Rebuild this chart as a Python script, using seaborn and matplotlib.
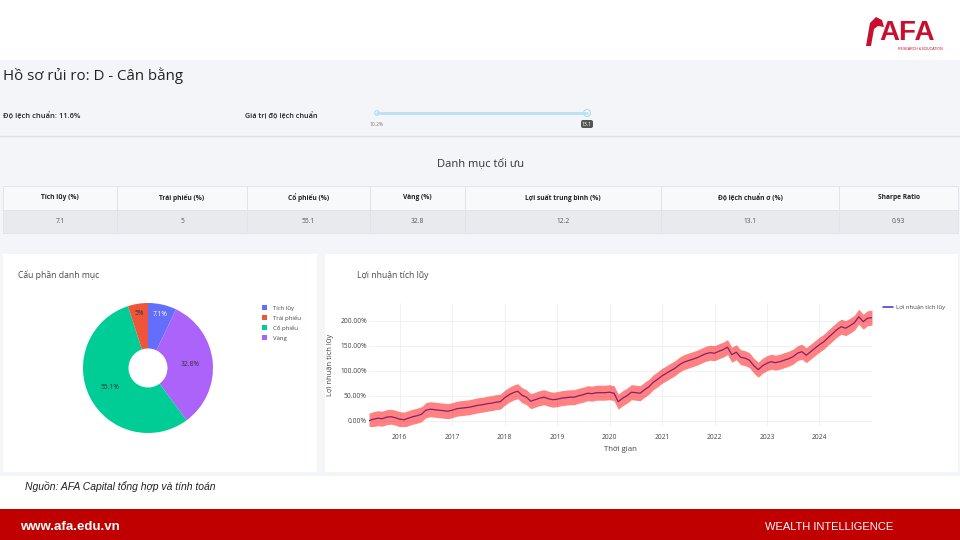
import matplotlib
matplotlib.use("Agg")
import matplotlib.pyplot as plt
import matplotlib.dates as mdates
from matplotlib import font_manager
from matplotlib.patches import Rectangle, Patch, Polygon, Circle, FancyBboxPatch
from matplotlib.lines import Line2D
from matplotlib.ticker import FuncFormatter
import numpy as np
import pandas as pd
import seaborn as sns

W, H = 960, 540

# ---- data ----
profile_name = "D - Cân bằng"
current_std = 11.6
slider_min = 10.2
slider_value = 13.1

table_headers = ["Tích lũy (%)", "Trái phiếu (%)", "Cổ phiếu (%)", "Vàng (%)",
                 "Lợi suất trung bình (%)", "Độ lệch chuẩn σ (%)", "Sharpe Ratio"]
table_values = ["7.1", "5", "55.1", "32.8", "12.2", "13.1", "0.93"]

assets = ["Tích lũy", "Trái phiếu", "Cổ phiếu", "Vàng"]
weights = [7.1, 5.0, 55.1, 32.8]

# cumulative return at the start of each month, Jun 2015 .. Jan 2025
months = pd.date_range("2015-06-01", "2025-01-01", freq="MS")
cum_return = [
    0.00, 0.03, 0.05, 0.04, 0.07, 0.08, 0.06,
    0.03, 0.02, 0.05, 0.08, 0.10, 0.13, 0.21, 0.23, 0.22, 0.21, 0.20, 0.19,
    0.21, 0.24, 0.25, 0.26, 0.27, 0.29, 0.31, 0.32, 0.34, 0.35, 0.37, 0.38,
    0.46, 0.52, 0.56, 0.59, 0.51, 0.47, 0.39, 0.42, 0.45, 0.47, 0.44, 0.42,
    0.43, 0.45, 0.46, 0.47, 0.47, 0.50, 0.52, 0.55, 0.54, 0.56, 0.56, 0.56,
    0.57, 0.55, 0.38, 0.45, 0.50, 0.57, 0.56, 0.55, 0.62, 0.68, 0.77, 0.83,
    0.90, 0.95, 1.00, 1.05, 1.12, 1.17, 1.20, 1.23, 1.26, 1.30, 1.34, 1.36,
    1.35, 1.39, 1.42, 1.47, 1.32, 1.37, 1.27, 1.25, 1.21, 1.10, 1.02, 1.10,
    1.15, 1.18, 1.16, 1.18, 1.21, 1.24, 1.28, 1.35, 1.38, 1.31, 1.38, 1.45,
    1.52, 1.58, 1.66, 1.74, 1.82, 1.88, 1.85, 1.90, 1.96, 2.08, 1.98, 2.05,
    2.06,
]
band_halfwidth = 0.15
tick_years = list(range(2016, 2025))

# ---- styles ----
asset_colors = ["#636efa", "#ef553b", "#00cc96", "#ab63fa"]
pie_order = [0, 3, 2, 1]          # clockwise from 12 o'clock, as drawn
label_colors = ["white", "#333333", "#333333", "#333333"]
line_color = "#861f6e"
legend_line_color = "#4b44c8"
band_color = "#ff1a1a"
page_gray = "#f3f5f8"
brand_red = "#c00000"

sns.set_style("white")
names = {f.name for f in font_manager.fontManager.ttflist}
narrow = "Liberation Sans Narrow" if "Liberation Sans Narrow" in names else "Liberation Sans"
plt.rcParams["font.family"] = ["Open Sans", "DejaVu Sans"]


def px_rect(x0, y0, x1, y1):
    return [x0 / W, 1 - y1 / H, (x1 - x0) / W, (y1 - y0) / H]


fig = plt.figure(figsize=(W / 100, H / 100), dpi=100)
fig.patch.set_facecolor("white")

# background canvas in pixel coordinates
bg = fig.add_axes([0, 0, 1, 1])
bg.set_xlim(0, W)
bg.set_ylim(H, 0)
bg.axis("off")

bg.add_patch(Rectangle((0, 60), W, 416, color=page_gray, lw=0))
bg.plot([0, W], [136, 136], color="#dde1e7", lw=1)
bg.add_patch(Rectangle((3, 254), 314, 218, color="white", lw=0))
bg.add_patch(Rectangle((325, 254), 633, 218, color="white", lw=0))

# logo
bg.add_patch(Polygon([(866, 46), (870, 23), (876, 17), (882, 20), (884, 27),
                      (878, 26), (874, 29), (871, 46)], color="#c8102e", lw=0))
bg.text(879, 40.5, "AFA", color="#c8102e", fontsize=20, fontweight="bold",
        family=narrow, ha="left", va="baseline")
bg.text(920, 49.5, "RESEARCH & EDUCATION", color="#c8102e", fontsize=2.6,
        ha="center", va="center", family=narrow)

# header
bg.text(3, 76, f"Hồ sơ rủi ro: {profile_name}", fontsize=10.8, color="#222222",
        ha="left", va="center")
bg.text(3, 116, f"Độ lệch chuẩn: {current_std}%", fontsize=5.4,
        fontweight="semibold", color="#222222", ha="left", va="center")
bg.text(245, 116, "Giá trị độ lệch chuẩn", fontsize=5.2,
        fontweight="semibold", color="#222222", ha="left", va="center")

# slider
bg.plot([377, 587], [113, 113], color="#b9e0f4", lw=2, solid_capstyle="round")
bg.add_patch(Circle((377, 113), 2.2, facecolor="white", edgecolor="#a9d8f0", lw=0.8))
bg.add_patch(Circle((587, 113), 3.4, facecolor="white", edgecolor="#a9d8f0", lw=0.8))
bg.text(377, 124, f"{slider_min}%", fontsize=3.6, color="#777777", ha="center", va="center")
bg.add_patch(FancyBboxPatch((581, 120), 12, 8, boxstyle="round,pad=0,rounding_size=2",
                            facecolor="#555555", edgecolor="none"))
bg.text(587, 124, f"{slider_value}", fontsize=3.6, color="white", ha="center", va="center")

bg.text(481, 164, "Danh mục tối ưu", fontsize=8, color="#333333", ha="center", va="center")

# footer
bg.text(25, 486, "Nguồn: AFA Capital tổng hợp và tính toán", fontsize=7.5,
        style="italic", family=narrow, color="#222222", ha="left", va="center")
bg.add_patch(Rectangle((0, 509), W, 31, color=brand_red, lw=0))
bg.text(20, 527, "www.afa.edu.vn", fontsize=9.5, fontweight="bold", family=narrow,
        color="white", ha="left", va="center")
bg.text(765, 527, "WEALTH INTELLIGENCE", fontsize=8, family=narrow,
        color="white", ha="left", va="center")

# ---- table ----
col_edges = [3, 117, 247, 370, 465, 661, 839, 958]
col_widths = np.diff(col_edges) / (col_edges[-1] - col_edges[0])
ax_tab = fig.add_axes(px_rect(3, 186, 958, 233))
ax_tab.axis("off")
tbl = ax_tab.table(cellText=[table_values], colLabels=table_headers,
                   colWidths=list(col_widths), cellLoc="center", bbox=[0, 0, 1, 1])
tbl.auto_set_font_size(False)
for (r, c), cell in tbl.get_celld().items():
    cell.set_edgecolor("#dfe3ea")
    cell.set_linewidth(0.6)
    if r == 0:
        cell.set_facecolor("#f8f9fb")
        cell.get_text().set_fontweight("bold")
        cell.get_text().set_color("#222222")
    else:
        cell.set_facecolor("#e8eaee")
        cell.get_text().set_color("#555555")
    cell.get_text().set_fontsize(4.8)

# ---- donut ----
bg.text(18, 275, "Cấu phần danh mục", fontsize=6.2, color="#4a4a4a", ha="left", va="center")
ax_pie = fig.add_axes(px_rect(83, 303, 213, 433))
wedges, _ = ax_pie.pie([weights[i] for i in pie_order],
                       colors=[asset_colors[i] for i in pie_order],
                       startangle=90, counterclock=False,
                       wedgeprops=dict(width=0.7, linewidth=0))
ax_pie.set_xlim(-1, 1)
ax_pie.set_ylim(-1, 1)
ax_pie.set_aspect("equal")
for w, i in zip(wedges, pie_order):
    mid = np.deg2rad((w.theta1 + w.theta2) / 2)
    r = 0.65 if weights[i] > 15 else 0.85
    ax_pie.text(r * np.cos(mid), r * np.sin(mid), f"{weights[i]:g}%",
                fontsize=4.8, color=label_colors[i], ha="center", va="center")
ax_pie.legend([Patch(facecolor=c, edgecolor="none") for c in asset_colors], assets,
              loc="upper left", bbox_to_anchor=(262 / W, 1 - 305 / H),
              bbox_transform=fig.transFigure, frameon=False, fontsize=4.3,
              handlelength=0.9, handleheight=0.9, handletextpad=1.0,
              labelspacing=0.75, borderaxespad=0, borderpad=0, labelcolor="#444444")

# ---- cumulative return ----
bg.text(357, 275, "Lợi nhuận tích lũy", fontsize=6.2, color="#4a4a4a", ha="left", va="center")
ax = fig.add_axes(px_rect(369, 303, 872, 426))
ax.set_facecolor("white")
ret = np.array(cum_return)
sns.lineplot(x=months, y=ret, ax=ax, color=line_color, linewidth=0.9, zorder=3)
ax.fill_between(months, ret - band_halfwidth, ret + band_halfwidth,
                color=band_color, alpha=0.55, lw=0, zorder=2)
ax.set_xlim(months[0], months[-1])
ax.set_ylim(-0.106, 2.354)
ax.set_yticks([0, 0.5, 1.0, 1.5, 2.0])
ax.yaxis.set_major_formatter(FuncFormatter(lambda v, _: f"{v * 100:.2f}%"))
ax.set_xticks([pd.Timestamp(f"{y}-01-01") for y in tick_years])
ax.xaxis.set_major_formatter(mdates.DateFormatter("%Y"))
ax.grid(True, color="#ebeff5", lw=0.6)
ax.set_axisbelow(True)
for s in ax.spines.values():
    s.set_visible(False)
ax.tick_params(axis="x", length=0, labelsize=4.8, labelcolor="#444444", pad=6)
ax.tick_params(axis="y", length=0, labelsize=4.8, labelcolor="#444444", pad=1.5)
ax.set_xlabel("Thời gian", fontsize=5.6, color="#444444")
ax.set_ylabel("Lợi nhuận tích lũy", fontsize=5.4, color="#444444")
ax.xaxis.set_label_coords(0.5, -0.16)
ax.yaxis.set_label_coords(-0.07, 0.5)
ax.legend([Line2D([0], [0], color=legend_line_color, lw=1.2)], ["Lợi nhuận tích lũy"],
          loc="upper left", bbox_to_anchor=(883 / W, 1 - 305 / H),
          bbox_transform=fig.transFigure, frameon=False, fontsize=4.3,
          handlelength=1.6, handletextpad=0.5, borderaxespad=0, borderpad=0,
          labelcolor="#444444")

fig.savefig("out.png", dpi=100)
